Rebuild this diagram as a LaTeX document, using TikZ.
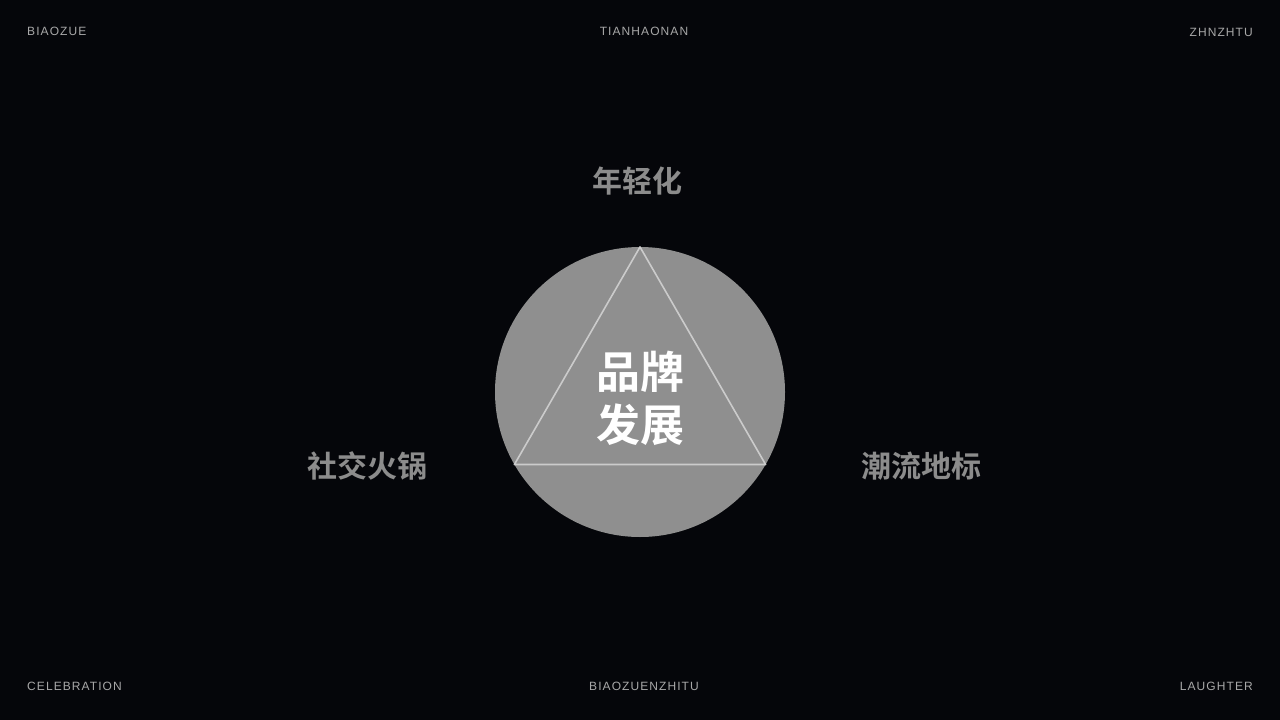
\documentclass[tikz,border=0pt]{standalone}
\usepackage{fontspec}
\setmainfont{Liberation Sans}
\newfontfamily\cornerfont{Liberation Sans}[LetterSpace=9]
\newfontfamily\cjkbold{Noto Sans CJK SC Bold}
\definecolor{bg}{HTML}{05060A}
\definecolor{disc}{HTML}{8F8F8F}
\definecolor{tri}{HTML}{CBCBCB}
\definecolor{lbl}{HTML}{8C8C8C}
\definecolor{corner}{HTML}{A8A8A8}
\begin{document}
\begin{tikzpicture}[x=1pt,y=-1pt,
  cornertxt/.style={text=corner,font=\cornerfont\fontsize{12}{14}\selectfont,inner sep=0pt},
  sidelbl/.style={text=lbl,font=\cjkbold\fontsize{30}{34}\selectfont,inner sep=0pt},
  centertxt/.style={text=white,font=\cjkbold\fontsize{44}{53}\selectfont,align=center,inner sep=0pt}]
\fill[bg] (0,0) rectangle (1280,720);
\useasboundingbox (0,0) rectangle (1280,720);
\node[circle,fill=disc,minimum size=290pt,inner sep=0pt] (c) at (640,392) {};
\coordinate (t1) at (640,247);
\coordinate (t2) at (514.4,464.5);
\coordinate (t3) at (765.6,464.5);
\draw[tri,line width=1.6pt,line join=round] (t1) -- (t2) -- (t3) -- cycle;
\node[centertxt] (ctr) at (640,398) {品牌\\发展};
\node[sidelbl] (top) at (637,181) {年轻化};
\node[sidelbl] (left) at (367,466) {社交火锅};
\node[sidelbl] (right) at (921,466) {潮流地标};
\node[cornertxt,anchor=west] (tl) at (27,31) {BIAOZUE};
\node[cornertxt] (tc) at (644,31) {TIANHAONAN};
\node[cornertxt,anchor=east] (tr) at (1253,32) {ZHNZHTU};
\node[cornertxt,anchor=west] (bl) at (27,686) {CELEBRATION};
\node[cornertxt] (bc) at (644,686) {BIAOZUENZHITU};
\node[cornertxt,anchor=east] (br) at (1253,686) {LAUGHTER};
\end{tikzpicture}
\end{document}
